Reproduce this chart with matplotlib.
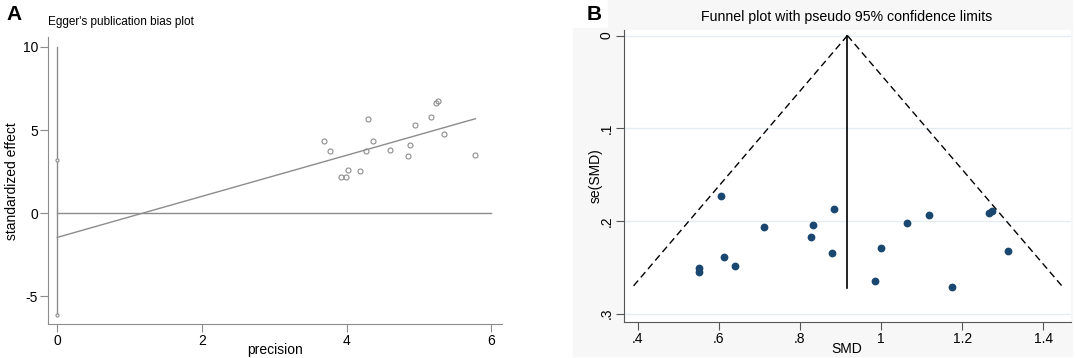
import matplotlib
matplotlib.use('Agg')
import matplotlib.pyplot as plt
from matplotlib.patches import Rectangle

# panel A: Egger's test
precision = [3.685, 3.77, 3.92, 3.985, 4.02, 4.18, 4.27, 4.29, 4.365,
             4.60, 4.845, 4.88, 4.945, 5.16, 5.23, 5.27, 5.35, 5.78]
std_effect = [4.36, 3.74, 2.16, 2.18, 2.58, 2.56, 3.74, 5.66, 4.36,
              3.82, 3.46, 4.08, 5.28, 5.80, 6.64, 6.72, 4.74, 3.52]
fit_x = [0, 5.78]
fit_y = [-1.46, 5.68]
intercept_ci = [-6.12, 3.22]
a_xticks = [0, 2, 4, 6]
a_yticks = [-5, 0, 5, 10]

# panel B: funnel plot
smd = [0.605, 0.8845, 0.7123, 0.8333, 0.8274, 0.8778, 0.6124, 0.6401, 0.5503,
       0.5503, 1.0633, 1.1179, 1.2673, 1.2724, 0.9995, 1.3135, 0.9844, 1.1758]
se_smd = [0.1728, 0.1868, 0.2063, 0.2045, 0.2174, 0.2343, 0.2387, 0.2487, 0.2513,
          0.2549, 0.2019, 0.1933, 0.1911, 0.1897, 0.2289, 0.2329, 0.2653, 0.2714]
pooled = 0.917
se_max = 0.272
lower_x = [pooled, 0.386]
upper_x = [pooled, 1.4495]
b_xticks = [0.4, 0.6, 0.8, 1.0, 1.2, 1.4]
b_xlabels = ['.4', '.6', '.8', '1', '1.2', '1.4']
b_yticks = [0, 0.1, 0.2, 0.3]
b_ylabels = ['0', '.1', '.2', '.3']

plt.rcParams['font.family'] = ['Liberation Sans', 'DejaVu Sans']
plt.rcParams['axes.unicode_minus'] = False

fig = plt.figure(figsize=(10.75, 3.58), dpi=100)
W, H = 1075, 358

def box(l, t, r, b):
    return [l / W, 1 - b / H, (r - l) / W, (b - t) / H]

def px_y(ax_t, ax_b, y):
    # pixel row -> axes fraction
    return (ax_b - y) / (ax_b - ax_t)

def px_x(ax_l, ax_r, x):
    return (x - ax_l) / (ax_r - ax_l)

# light background of the Stata graph in panel B
fig.patches.append(Rectangle((573 / W, 1 - 356 / H), (1072 - 573) / W, (356 - 28) / H,
                             transform=fig.transFigure, color='#f7f7f7', zorder=0))
fig.patches.append(Rectangle((608 / W, 1 - 30 / H), (1072 - 608) / W, 30 / H,
                             transform=fig.transFigure, color='#f7f7f7', zorder=0))

# ---- panel A
grey = '#8c8c8c'
aL, aT, aR, aB = 47.7, 37.3, 501.7, 324.3
ax1 = fig.add_axes(box(aL, aT, aR, aB))
ax1.set_zorder(2)
ax1.plot([0, 0], [intercept_ci[0], 10], color=grey, lw=1.0)
ax1.plot([0, 0], intercept_ci, 'o', ms=2.2, mfc='white', mec=grey, mew=0.8)
ax1.plot([0, 6], [0, 0], color=grey, lw=1.0)
ax1.plot(fit_x, fit_y, color=grey, lw=1.0)
ax1.plot(precision, std_effect, 'o', ms=3.6, mfc='none', mec=grey, mew=0.8)
ax1.set_xlim(-0.133, 6.144)
ax1.set_ylim(-6.69, 10.58)
ax1.set_xticks(a_xticks)
ax1.set_yticks(a_yticks)
for s in ['top', 'right']:
    ax1.spines[s].set_visible(False)
for s in ['left', 'bottom']:
    ax1.spines[s].set_color(grey)
ax1.tick_params(labelcolor='black', color=grey, length=6, width=0.8, labelsize=10, pad=1)
ax1.set_xlabel('precision', fontsize=10)
ax1.xaxis.label.set_va('center')
ax1.xaxis.set_label_coords(0.5, px_y(aT, aB, 350))
ax1.set_ylabel('standardized effect', fontsize=10)
ax1.yaxis.label.set_va('center')
ax1.yaxis.set_label_coords(px_x(aL, aR, 12), 0.5)
fig.text(48 / W, 1 - 22 / H, "Egger's publication bias plot", fontsize=8.5, va='center', ha='left')
fig.text(6 / W, 1 - 15 / H, 'A', fontsize=15, fontweight='bold', va='center', ha='left')

# ---- panel B
navy = '#1a476f'
bL, bT, bR, bB = 623.7, 30, 1070.5, 321.7
ax2 = fig.add_axes(box(bL, bT, bR, bB))
ax2.set_zorder(2)
ax2.set_facecolor('white')
for y in b_yticks:
    ax2.axhline(y, color='#e4eef0', lw=1.0, zorder=0)
ax2.plot(lower_x, [0, se_max], color='black', lw=1.0, dashes=(5, 3))
ax2.plot(upper_x, [0, se_max], color='black', lw=1.0, dashes=(5, 3))
ax2.plot([pooled, pooled], [0, se_max], color='black', lw=1.2)
ax2.plot(smd, se_smd, 'o', ms=4.6, color=navy, mec=navy)
ax2.set_xlim(0.3655, 1.467)
ax2.set_ylim(0.3087, -0.006)
ax2.set_xticks(b_xticks)
ax2.set_xticklabels(b_xlabels)
ax2.set_yticks(b_yticks)
ax2.set_yticklabels(b_ylabels, rotation=90, va='center')
for s in ['top', 'right']:
    ax2.spines[s].set_visible(False)
for s in ['left', 'bottom']:
    ax2.spines[s].set_color('#555555')
ax2.tick_params(length=6, width=0.8, color='#555555', labelsize=10, pad=1.5)
ax2.set_xlabel('SMD', fontsize=10)
ax2.xaxis.label.set_va('center')
ax2.xaxis.set_label_coords(0.5, px_y(bT, bB, 349))
ax2.set_ylabel('se(SMD)', fontsize=10)
ax2.yaxis.label.set_va('center')
ax2.yaxis.set_label_coords(px_x(bL, bR, 596), 0.5)
fig.text((bL + bR) / 2 / W, 1 - 16.7 / H, 'Funnel plot with pseudo 95% confidence limits',
         fontsize=10.2, va='center', ha='center')
fig.text(587 / W, 1 - 14 / H, 'B', fontsize=15, fontweight='bold', va='center', ha='left')

fig.savefig('out.png', dpi=100)
